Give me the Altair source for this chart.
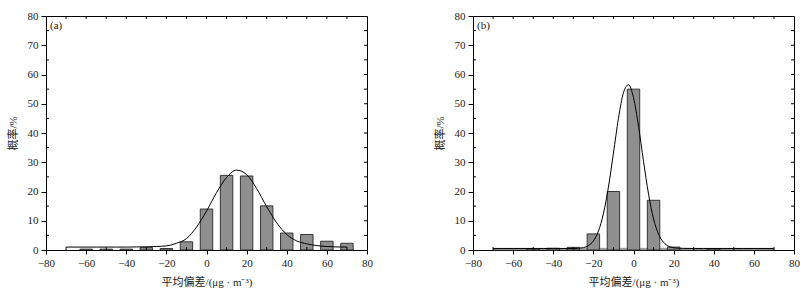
import altair as alt
import pandas as pd

# ---------------- data ----------------
# Panel (a)
a_centers = [-60, -50, -40, -30, -20, -10, 0, 10, 20, 30, 40, 50, 60, 70]
a_values = [0.3, 0.3, 0.3, 0.8, 0.5, 2.8, 14.0, 25.5, 25.3, 15.1, 5.8, 5.3, 3.0, 2.3]
a_curve_x = [-70, -65, -60, -55, -50, -45, -40, -35, -30, -25, -20, -15, -10, -5, 0,
             5, 10, 15, 20, 25, 30, 35, 40, 45, 50, 55, 60, 65, 70]
a_curve_y = [1.0, 1.0, 1.0, 1.0, 1.0, 1.0, 1.0, 1.05, 1.1, 1.2, 1.4, 2.3, 3.9, 7.8, 13.3,
             19.6, 24.8, 27.3, 25.8, 21.0, 14.8, 9.3, 5.3, 3.1, 2.1, 1.5, 1.2, 1.05, 1.0]

# Panel (b)
b_centers = [-50, -40, -30, -20, -10, 0, 10, 20, 40]
b_values = [0.4, 0.6, 0.9, 5.5, 20.0, 55.0, 17.0, 1.0, 0.4]
b_curve_x = [-70, -65, -60, -55, -50, -45, -40, -35, -30, -25, -22.5, -20, -17.5, -15,
             -12.5, -10, -7.5, -5, -2.5, 0, 2.5, 5, 7.5, 10, 12.5, 15, 17.5, 20, 25,
             30, 35, 40, 45, 50, 55, 60, 65, 70]
b_curve_y = [0.5, 0.5, 0.5, 0.5, 0.5, 0.5, 0.5, 0.5, 0.5, 0.8, 1.5, 3.1, 6.4, 12.4,
             21.5, 33.1, 45.0, 53.8, 56.5, 52.1, 42.3, 30.3, 19.1, 10.6, 5.4, 2.6, 1.3, 0.75, 0.55,
             0.5, 0.5, 0.5, 0.5, 0.5, 0.5, 0.5, 0.5, 0.5]
b_band_from = [-70]
b_band_to = [70]
b_band_height = [0.6]

panel_labels = ["(a)", "(b)"]

# axis tick values
x_major_ticks = [-80, -60, -40, -20, 0, 20, 40, 60, 80]
x_minor_ticks = [-70, -50, -30, -10, 10, 30, 50, 70]
x_top_ticks = [-70, -60, -50, -40, -30, -20, -10, 0, 10, 20, 30, 40, 50, 60, 70]
y_major_ticks = [0, 10, 20, 30, 40, 50, 60, 70, 80]
y_minor_ticks = [5, 15, 25, 35, 45, 55, 65, 75]
y_right_ticks = [5, 10, 15, 20, 25, 30, 35, 40, 45, 50, 55, 60, 65, 70, 75]

x_title = "平均偏差/(μg · m⁻³)"
y_title = "概率/%"

# ---------------- styling ----------------
W, H = 321, 234
HALF = 3.1
FONT = "'Liberation Serif', 'Times New Roman', 'Noto Sans CJK SC', serif"
INK = "#222222"
BAR_FILL = "#8f8f8f"
TICK = 3

xscale = alt.Scale(domain=[-80, 80], nice=False, zero=False)
yscale = alt.Scale(domain=[0, 80], nice=False, zero=False)

xaxis = alt.Axis(values=x_major_ticks, tickSize=4, labelPadding=3, grid=False,
                 title=x_title, titlePadding=8, labelFontSize=11, titleFontSize=11,
                 domainColor="black", tickColor="black", labelColor=INK, titleColor=INK,
                 labelFont=FONT, titleFont=FONT, titleFontWeight="normal", labelFlush=False)
yaxis = alt.Axis(values=y_major_ticks, tickSize=5, labelPadding=3, grid=False,
                 title=y_title, titlePadding=9, labelFontSize=11, titleFontSize=11,
                 domainColor="black", tickColor="black", labelColor=INK, titleColor=INK,
                 labelFont=FONT, titleFont=FONT, titleFontWeight="normal", labelFlush=False)


def X(field):
    return alt.X(field, scale=xscale, axis=xaxis)


def Y(field):
    return alt.Y(field, scale=yscale, axis=yaxis)


def panel(label, centers, values, cx, cy, band=None):
    bars_df = pd.DataFrame({
        "x0": [c - HALF for c in centers],
        "x1": [c + HALF for c in centers],
        "v": values,
    })
    curve_df = pd.DataFrame({"x": cx, "y": cy})

    layers = []
    if band is not None:
        band_df = pd.DataFrame({"x0": band[0], "x1": band[1], "v": band[2]})
        layers.append(
            alt.Chart(band_df).mark_rect(fill="#9a9a9a", stroke="#7a7a7a", strokeWidth=0.4).encode(
                x=X("x0:Q"), x2="x1:Q", y=Y("v:Q"), y2=alt.datum(0),
            )
        )
    bars = alt.Chart(bars_df).mark_rect(fill=BAR_FILL, stroke="#262626", strokeWidth=0.9).encode(
        x=X("x0:Q"), x2="x1:Q", y=Y("v:Q"), y2=alt.datum(0),
    )
    layers.append(bars)
    curve = alt.Chart(curve_df).mark_line(color="black", strokeWidth=1, interpolate="monotone").encode(
        x=X("x:Q"), y=Y("y:Q"),
    )
    layers.append(curve)

    # inward minor ticks on all four sides
    bot = alt.Chart(pd.DataFrame({"t": x_minor_ticks})).mark_rule(color="black", strokeWidth=1).encode(
        x=X("t:Q"), y=alt.value(H), y2=alt.value(H - TICK))
    top = alt.Chart(pd.DataFrame({"t": x_top_ticks})).mark_rule(color="black", strokeWidth=1).encode(
        x=X("t:Q"), y=alt.value(0), y2=alt.value(TICK))
    left = alt.Chart(pd.DataFrame({"t": y_minor_ticks})).mark_rule(color="black", strokeWidth=1).encode(
        y=Y("t:Q"), x=alt.value(0), x2=alt.value(TICK))
    right = alt.Chart(pd.DataFrame({"t": y_right_ticks})).mark_rule(color="black", strokeWidth=1).encode(
        y=Y("t:Q"), x=alt.value(W), x2=alt.value(W - TICK))
    layers += [bot, top, left, right]

    txt = alt.Chart(pd.DataFrame({"label": [label]})).mark_text(
        align="left", baseline="middle", font=FONT, fontSize=11, color=INK
    ).encode(text="label:N", x=alt.value(4), y=alt.value(10))
    layers.append(txt)

    return alt.layer(*layers).properties(width=W, height=H)


pa = panel(panel_labels[0], a_centers, a_values, a_curve_x, a_curve_y)
pb = panel(panel_labels[1], b_centers, b_values, b_curve_x, b_curve_y,
           band=(b_band_from, b_band_to, b_band_height))

chart = alt.hconcat(pa, pb, spacing=106, bounds="flush").properties(
    padding={"left": 6, "top": 9, "right": 5, "bottom": 2},
    background="white",
).configure_view(stroke="black", strokeWidth=1)

chart.save("out.html", embed_options={"renderer": "svg", "actions": False})
